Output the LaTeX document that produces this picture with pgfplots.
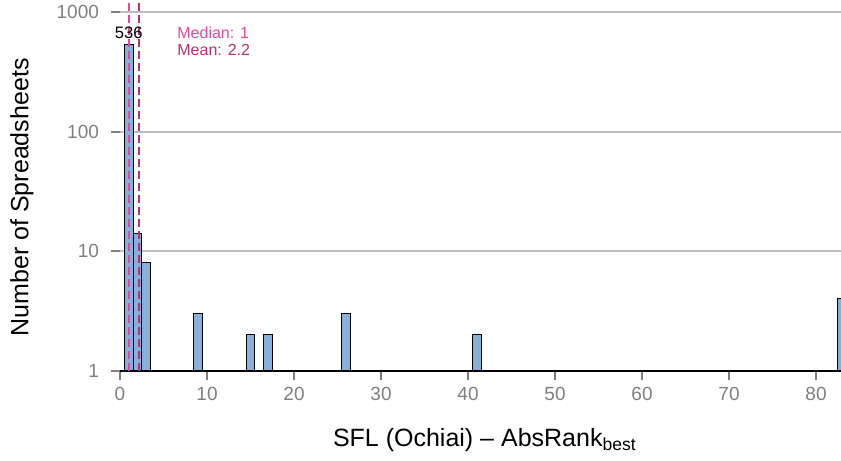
\documentclass[border=0pt]{standalone}
\usepackage{pgfplots}
\pgfplotsset{compat=1.18}
\usepackage{fontspec}
\setmainfont{Liberation Sans}
\definecolor{barfill}{HTML}{89AFDB}
\definecolor{medcol}{HTML}{E7479A}
\definecolor{meancol}{HTML}{B5306E}
\definecolor{gridc}{HTML}{BEBEBE}
\definecolor{tickc}{HTML}{7F7F7F}
\begin{document}
\begin{tikzpicture}
\begin{axis}[
  name=ax,
  scale only axis,
  width=360.5pt, height=185.5pt,
  xmin=0, xmax=82.87,
  ymode=log, ymin=1, ymax=1259,
  log basis y=10,
  ytick={1,10,100,1000},
  yticklabels={1,10,100,1000},
  xtick={0,10,20,30,40,50,60,70,80},
  axis x line*=bottom,
  axis y line*=left,
  y axis line style={draw=none},
  x axis line style={draw=black, line width=0.7pt},
  ymajorgrids,
  grid style={gridc, line width=1pt},
  tick align=outside,
  major tick length=4.5pt,
  xtick style={tickc, line width=1.1pt},
  ytick style={tickc, line width=1.1pt},
  minor tick num=0,
  tick label style={font=\fontsize{9.5}{11}\selectfont, text=tickc},
  yticklabel style={xshift=-2.5pt},
  /pgf/number format/assume math mode=true,
  xlabel={SFL (Ochiai) – AbsRank\textsubscript{best}},
  ylabel={Number of Spreadsheets},
  label style={font=\fontsize{12.5}{14}\selectfont},
  xlabel style={at={(axis description cs:0.506,-0.186)}, anchor=center},
  ylabel style={at={(axis description cs:-0.1359,0.468)}, anchor=center},
  clip mode=individual,
]
\addplot[ybar, bar width=1, bar shift=0pt, fill=barfill, draw=black, line width=0.5pt]
  coordinates {(1,536) (2,14) (3,8) (9,3) (15,2) (17,2) (26,3) (41,2) (83,4)};
\addplot[medcol, line width=0.9pt, dash pattern=on 4pt off 2pt] coordinates {(1,1) (1,1259)};
\addplot[meancol, line width=0.9pt, dash pattern=on 4pt off 2pt] coordinates {(2.2,1) (2.2,1259)};
\node[font=\fontsize{8.3}{9}\selectfont, anchor=center, inner sep=0pt, text=black] at (axis cs:1,667) {536};
\node[font=\fontsize{8}{9}\selectfont, anchor=west, inner sep=0pt, text=medcol] at (axis cs:6.55,667) {Median: 1};
\node[font=\fontsize{8}{9}\selectfont, anchor=west, inner sep=0pt, text=meancol] at (axis cs:6.55,481) {Mean: 2.2};
\end{axis}
\pgfresetboundingbox
\path[use as bounding box] ([xshift=-60pt,yshift=-45pt]ax.south west) rectangle (ax.north east);
\end{tikzpicture}
\end{document}
